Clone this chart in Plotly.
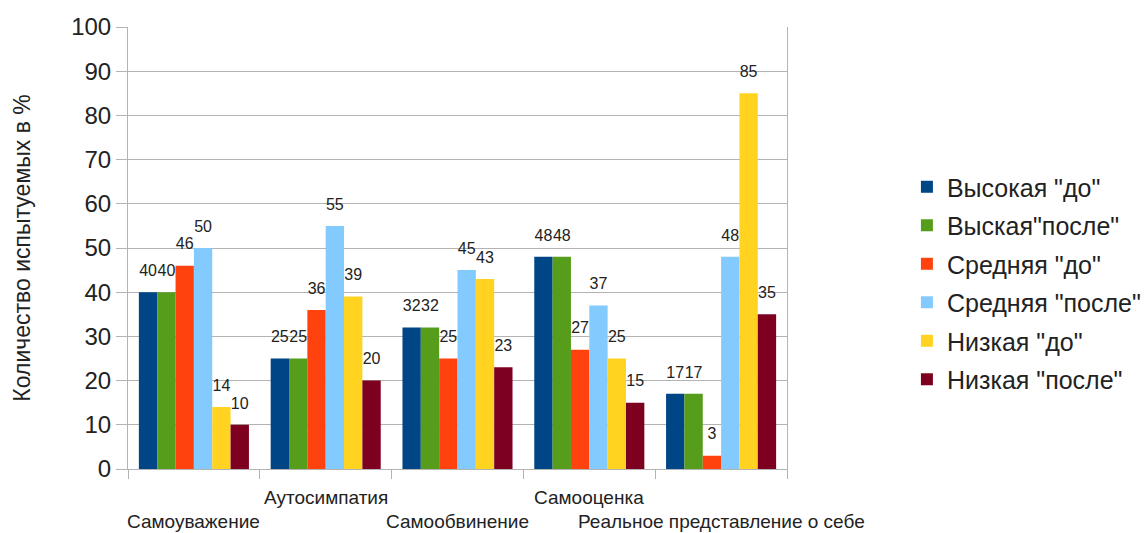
import plotly.graph_objects as go

categories = ["Самоуважение", "Аутосимпатия", "Самообвинение", "Самооценка",
              "Реальное представление о себе"]
series_names = ['Высокая "до"', 'Выская"после"', 'Средняя "до"',
                'Средняя "после"', 'Низкая "до"', 'Низкая "после"']
high_before = [40, 25, 32, 48, 17]
high_after = [40, 25, 32, 48, 17]
mid_before = [46, 36, 25, 27, 3]
mid_after = [50, 55, 45, 37, 48]
low_before = [14, 39, 43, 25, 85]
low_after = [10, 20, 23, 15, 35]
series_values = [high_before, high_after, mid_before, mid_after, low_before, low_after]
colors = ["#004586", "#579d1c", "#ff420e", "#83caff", "#ffd320", "#7e0021"]
y_ticks = list(range(0, 101, 10))
y_title = "Количество испытуемых в %"

FONT = "Liberation Sans, Arial, sans-serif"
GAP = 0.165

fig = go.Figure()
for k, (name, vals, col) in enumerate(zip(series_names, series_values, colors)):
    fig.add_trace(go.Bar(
        x=categories, y=vals, name=name, marker_color=col,
        marker_line_width=0, legendgroup=name, offsetgroup=str(k),
        hoverinfo="skip",
    ))
# value labels, aligned with the bars via grouped scatter mode
for k, (name, vals) in enumerate(zip(series_names, series_values)):
    fig.add_trace(go.Scatter(
        x=categories, y=vals, mode="markers+text", text=vals,
        textposition="top center", cliponaxis=False, showlegend=False,
        offsetgroup=str(k), legendgroup=name,
        marker=dict(size=18, opacity=0),
        textfont=dict(size=16, color="#222", family=FONT),
        hoverinfo="skip",
    ))

# staggered category labels
for i, cat in enumerate(categories):
    fig.add_annotation(x=cat, xref="x", y=0, yref="paper",
                       yshift=-52 if i % 2 == 0 else -28,
                       text=cat, showarrow=False, yanchor="middle",
                       font=dict(size=19, color="#222", family=FONT))

fig.update_layout(
    width=1148, height=533,
    margin=dict(l=128, r=361, t=27, b=64, autoexpand=False),
    paper_bgcolor="white", plot_bgcolor="white",
    barmode="group", bargap=GAP, bargroupgap=0,
    scattermode="group", scattergap=GAP,
    font=dict(family=FONT, color="#222"),
    legend=dict(xref="container", x=0.79, xanchor="left",
                y=0.69, yanchor="top",
                font=dict(size=25, family=FONT, color="#222"),
                tracegroupgap=3, itemwidth=30),
    showlegend=True,
)
fig.update_xaxes(
    type="category", range=[-0.5, len(categories) - 0.5],
    tickson="boundaries", ticks="outside", ticklen=9,
    tickcolor="#b3b3b3", showticklabels=False, showgrid=False,
    showline=True, linecolor="#b3b3b3", linewidth=1,
)
fig.update_yaxes(
    range=[0, 100], tickvals=y_ticks, showgrid=True, gridcolor="#b3b3b3",
    ticks="outside", ticklen=11, tickcolor="#b3b3b3",
    showline=True, linecolor="#b3b3b3", mirror=True,
    tickfont=dict(size=24, family=FONT, color="#222"),
    title=dict(text=y_title, font=dict(size=23, family=FONT, color="#222"),
               standoff=34),
    zeroline=False,
)

fig.write_html("out.html")
